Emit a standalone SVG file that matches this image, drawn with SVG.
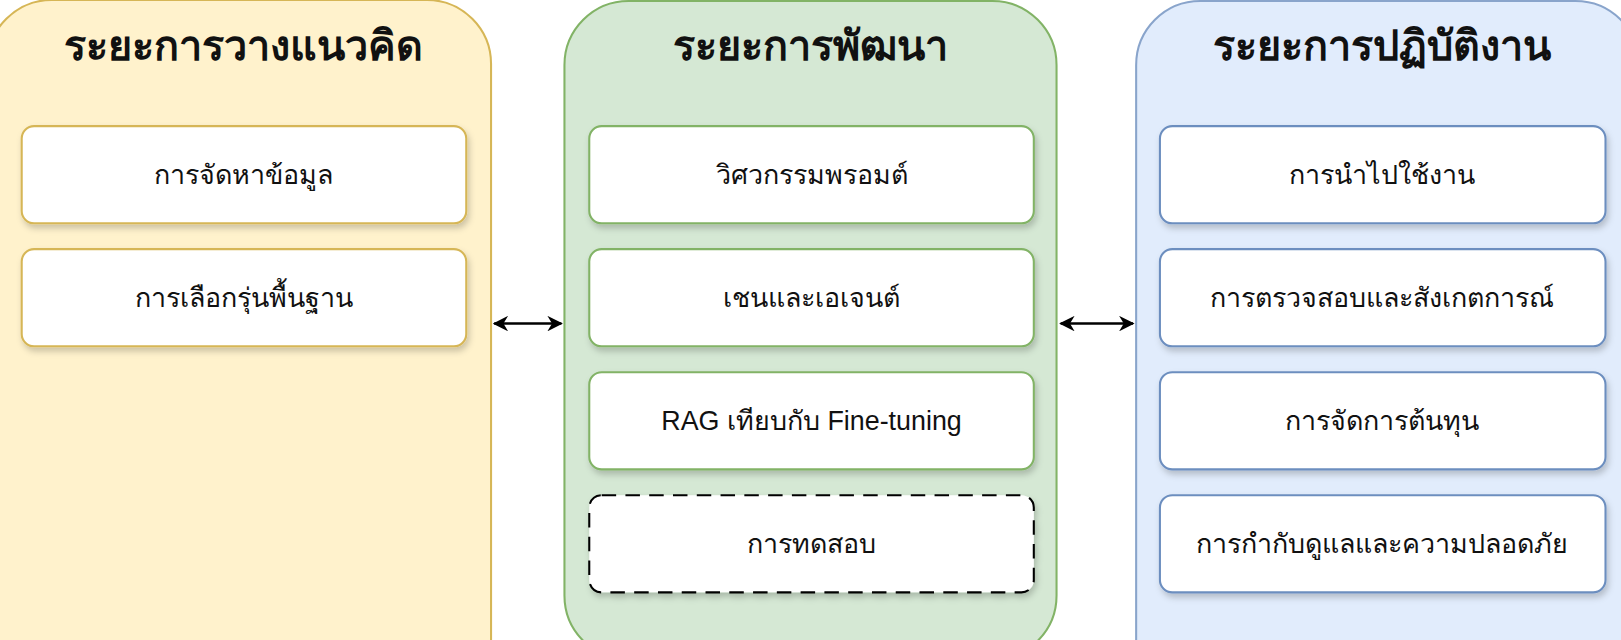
<svg xmlns="http://www.w3.org/2000/svg" width="1621" height="640" viewBox="0 0 1621 640">
<defs>
<style>
.t{font-family:"Noto Sans","Liberation Sans",sans-serif;font-weight:bold;font-size:40px;fill:#111;text-anchor:middle}
.l{font-family:"Liberation Sans","Noto Sans",sans-serif;font-size:26px;fill:#111;text-anchor:middle}
.b{fill:#fff;stroke-width:2}
.c{stroke:#000;stroke-width:2.5;fill:none}
</style>
<filter id="sh" x="-10%" y="-20%" width="130%" height="150%"><feDropShadow dx="2" dy="4" stdDeviation="3" flood-color="#000" flood-opacity="0.2"/></filter>
<marker id="a" viewBox="0 0 10 10" refX="9" refY="5" markerWidth="6" markerHeight="6" orient="auto-start-reverse"><path d="M0,0L10,5L0,10L3,5Z" fill="#000"/></marker>
</defs>
<rect width="1621" height="640" fill="#fff"/>
<g transform="scale(1.0338)">
<g id="planning">
<rect x="-12" y="0" width="487" height="680" rx="62" fill="#fff2cc" stroke="#d6b656" stroke-width="2"/>
<text class="t" x="236" y="58">ระยะการวางแนวคิด</text>
<g id="p1"><rect class="b" x="21" y="122" width="430" height="94" rx="12" stroke="#d6b656" filter="url(#sh)"/><text class="l" x="236" y="178">การจัดหาข้อมูล</text></g>
<g id="p2"><rect class="b" x="21" y="241" width="430" height="94" rx="12" stroke="#d6b656" filter="url(#sh)"/><text class="l" x="236" y="297">การเลือกรุ่นพื้นฐาน</text></g>
</g>
<g id="dev">
<rect x="546" y="1" width="476" height="637" rx="62" fill="#d5e8d4" stroke="#82b366" stroke-width="2"/>
<text class="t" x="784" y="58">ระยะการพัฒนา</text>
<g id="d1"><rect class="b" x="570" y="122" width="430" height="94" rx="12" stroke="#82b366" filter="url(#sh)"/><text class="l" x="785" y="178">วิศวกรรมพรอมต์</text></g>
<g id="d2"><rect class="b" x="570" y="241" width="430" height="94" rx="12" stroke="#82b366" filter="url(#sh)"/><text class="l" x="785" y="297">เชนและเอเจนต์</text></g>
<g id="d3"><rect class="b" x="570" y="360" width="430" height="94" rx="12" stroke="#82b366" filter="url(#sh)"/><text class="l" x="785" y="416">RAG เทียบกับ Fine-tuning</text></g>
<g id="d4"><rect class="b" x="570" y="479" width="430" height="94" rx="12" stroke="#000" stroke-width="4" stroke-dasharray="14,9" filter="url(#sh)"/><text class="l" x="785" y="535">การทดสอบ</text></g>
</g>
<g id="ops">
<rect x="1099" y="1" width="487" height="680" rx="62" fill="#dae8fc" stroke="#6c8ebf" stroke-width="2" opacity="0.8"/>
<text class="t" x="1337" y="58">ระยะการปฏิบัติงาน</text>
<g id="o1"><rect class="b" x="1122" y="122" width="431" height="94" rx="12" stroke="#6c8ebf" filter="url(#sh)"/><text class="l" x="1337" y="178">การนำไปใช้งาน</text></g>
<g id="o2"><rect class="b" x="1122" y="241" width="431" height="94" rx="12" stroke="#6c8ebf" filter="url(#sh)"/><text class="l" x="1337" y="297">การตรวจสอบและสังเกตการณ์</text></g>
<g id="o3"><rect class="b" x="1122" y="360" width="431" height="94" rx="12" stroke="#6c8ebf" filter="url(#sh)"/><text class="l" x="1337" y="416">การจัดการต้นทุน</text></g>
<g id="o4"><rect class="b" x="1122" y="479" width="431" height="94" rx="12" stroke="#6c8ebf" filter="url(#sh)"/><text class="l" x="1337" y="535">การกำกับดูแลและความปลอดภัย</text></g>
</g>
<g id="connectors">
<line class="c" x1="478" y1="313" x2="543" y2="313" marker-start="url(#a)" marker-end="url(#a)"/>
<line class="c" x1="1026" y1="313" x2="1096" y2="313" marker-start="url(#a)" marker-end="url(#a)"/>
</g>
</g>
</svg>
